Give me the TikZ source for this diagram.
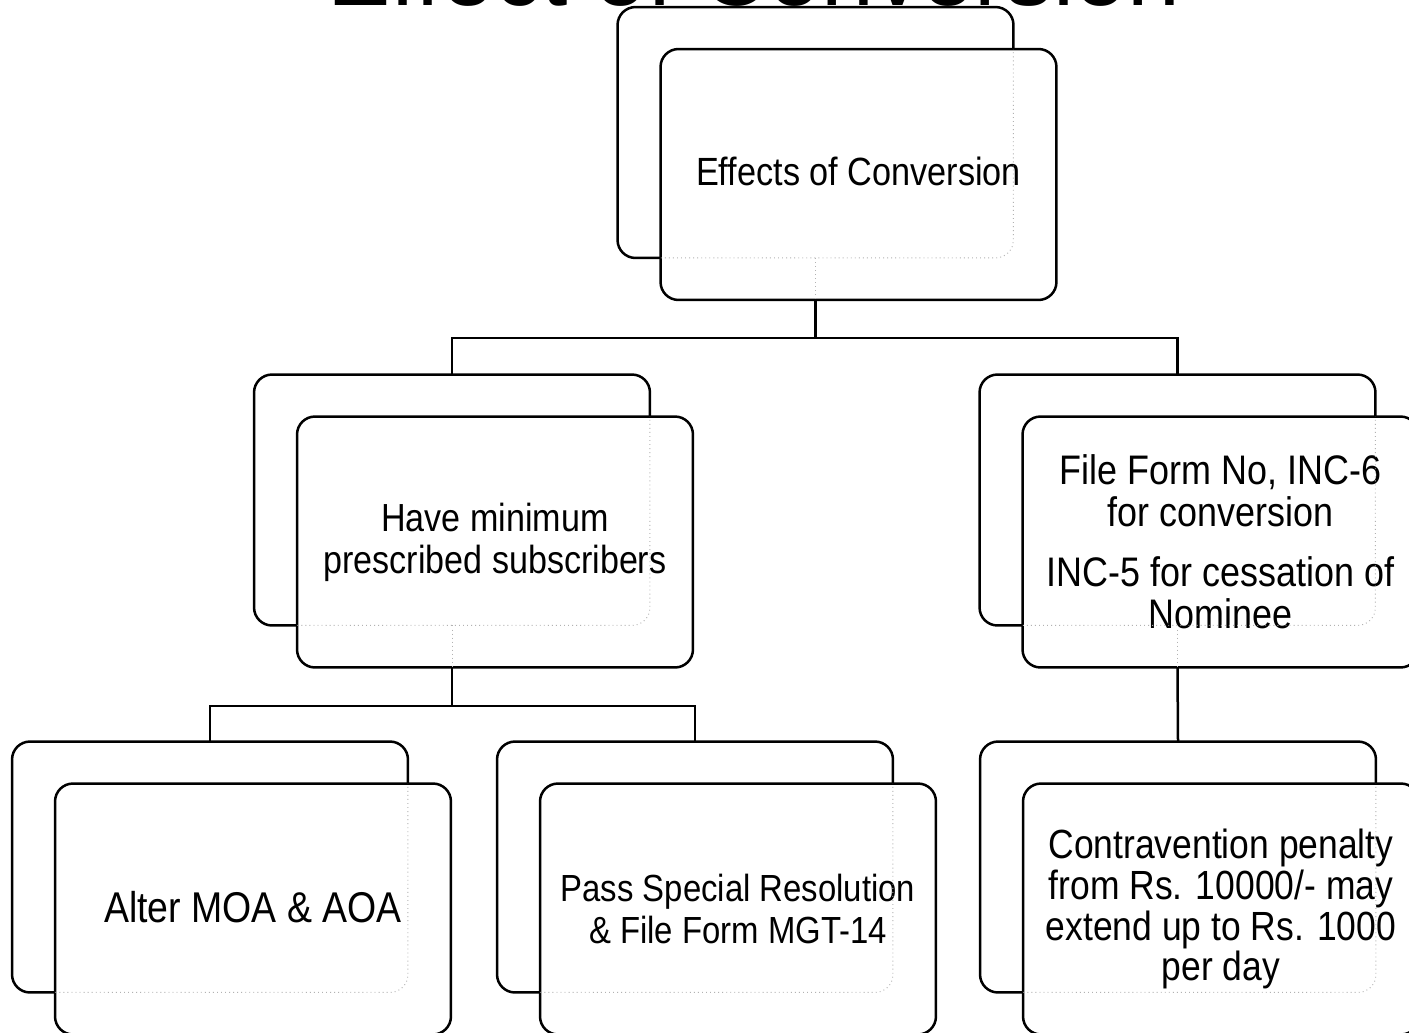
\documentclass[tikz,border=0pt]{standalone}
\usepackage{fontspec}
\setmainfont{Liberation Sans}[FakeStretch=0.87]
\newfontfamily\titlefont{Liberation Sans}

\tikzset{
	backbox/.style={draw=black, line width=0.05cm, rounded corners=0.36cm,
		minimum width=7.92cm, minimum height=5.02cm, outer sep=0pt},
	frontbox/.style={backbox, fill=white, align=center, inner sep=0pt,
		xshift=0.86cm, yshift=-0.84cm},
	hidden/.style={draw=gray!60, line width=0.02cm, dash pattern=on 0.5pt off 1.8pt},
	link/.style={draw=black, line width=0.05cm},
}

\begin{document}
\begin{tikzpicture}[x=0.02cm, y=-0.02cm]

	\clip (0,0) rectangle (1409,1032);

	% title, mostly above the page
	\node[anchor=base west, inner sep=0pt, font=\titlefont\fontsize{54}{60}\selectfont] (title) at (327,5) {Effect of Conversion};

	\coordinate (effC)  at (815.5,132.5);
	\coordinate (subsC) at (452,500);
	\coordinate (formC) at (1177.5,500);
	\coordinate (moaC)  at (210,867);
	\coordinate (resC)  at (695,867);
	\coordinate (penC)  at (1178,867);
	\coordinate (bar1y) at (0,338);
	\coordinate (bar2y) at (0,706);

	\node[backbox] (effB) at (effC) {};
	\node[frontbox, font=\fontsize{22.4}{25}\selectfont] (effF) at (effC) {\raisebox{4pt}{Effects of Conversion}};

	\node[backbox] (subsB) at (subsC) {};
	\node[frontbox, font=\fontsize{22.3}{23.9}\selectfont] (subsF) at (subsC) {Have minimum\\prescribed subscribers};

	\node[backbox] (formB) at (formC) {};
	\node[frontbox, font=\fontsize{23.5}{23.9}\selectfont] (formF) at (formC) {File Form No, INC-6\\for conversion\\[10pt]INC-5 for cessation of\\Nominee};

	\node[backbox] (moaB) at (moaC) {};
	\node[frontbox, font=\fontsize{24.5}{26}\selectfont] (moaF) at (moaC) {\raisebox{2pt}{Alter MOA \& AOA}};

	\node[backbox] (resB) at (resC) {};
	\node[frontbox, font=\fontsize{21.5}{23.9}\selectfont] (resF) at (resC) {Pass Special Resolution\\\& File Form MGT-14};

	\node[backbox] (penB) at (penC) {};
	\node[frontbox, font=\fontsize{23.2}{23.3}\selectfont] (penF) at (penC) {Contravention penalty\\from Rs. 10000/- may\\extend up to Rs. 1000\\per day};

	% hidden outlines behind the front boxes
	\foreach \n in {eff,subs,form,moa,res,pen}{
		\begin{scope}
			\clip[rounded corners=0.36cm] (\n F.south west) rectangle (\n F.north east);
			\draw[hidden, rounded corners=0.36cm] (\n B.south west) rectangle (\n B.north east);
		\end{scope}
	}
	\foreach \n in {eff,subs,form}
		\draw[hidden] (\n B.south) -- (\n B.south |- \n F.south);

	\coordinate (bar1) at (effB.south |- bar1y);
	\coordinate (bar2) at (subsB.south |- bar2y);

	\draw[link] (effB.south |- effF.south) -- (bar1) -| (subsB.north);
	\draw[link] (bar1) -| (formB.north);
	\draw[link] (subsB.south |- subsF.south) -- (bar2) -| (moaB.north);
	\draw[link] (bar2) -| (resB.north);
	\draw[link] (formB.south |- formF.south) -- (penB.north);

\end{tikzpicture}
\end{document}
